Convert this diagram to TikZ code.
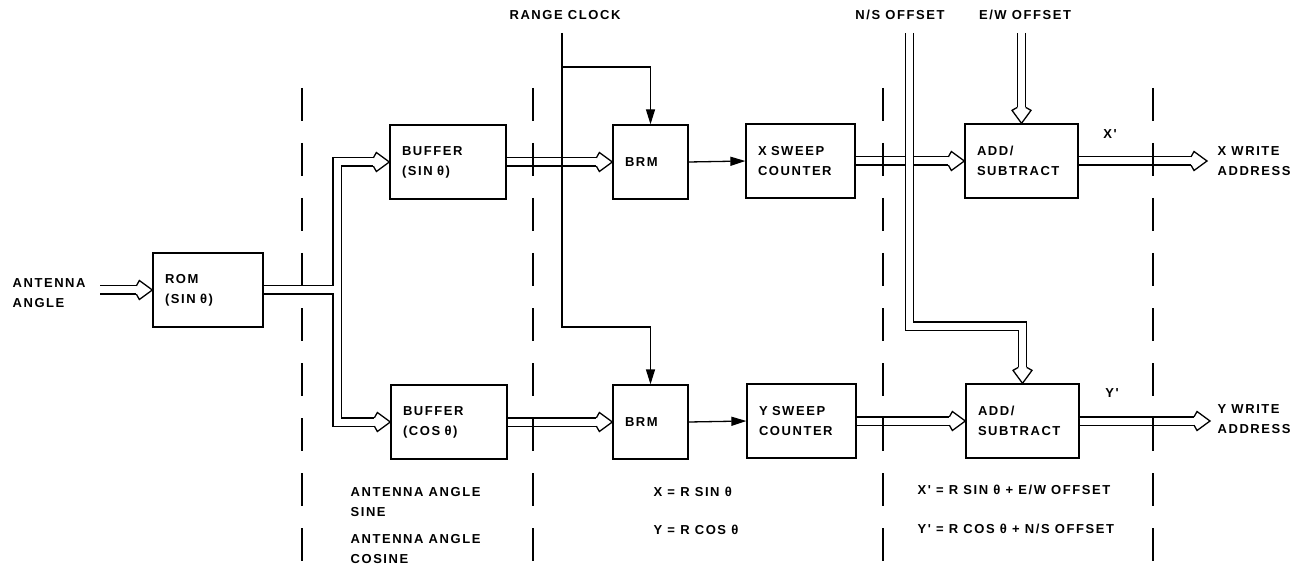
\documentclass[tikz,border=0pt]{standalone}
\usepackage{fontspec}
\setmainfont{Liberation Sans}
\newfontfamily\lblfont[LetterSpace=12]{Liberation Sans}
\usetikzlibrary{arrows.meta}

\tikzset{
    bushead/.pic={\draw[line width=1.3pt, line join=miter] (-16,4.15) -- (-13,9.5) -- (0,0) -- (-13,-9.5) -- (-16,-4.15);}
}

\begin{document}
\begin{tikzpicture}[x=1pt, y=-1pt, line width=1.3pt,
    every node/.style={font=\lblfont\bfseries\fontsize{13}{20}\selectfont, inner sep=0pt},
    block/.style={draw, minimum height=74pt, inner xsep=12pt, text width=#1, align=left},
    bus/.style={double distance=7pt, shorten >=16pt},
    sig/.style={-{Triangle[length=15pt, width=9pt]}},
    sep/.style={line width=2pt, dash pattern=on 33pt off 22pt}]
    \useasboundingbox (0,0) rectangle (1314,569);
    % blocks
    \node[block=86pt] (rom) at (208,290) {ROM\\(SIN θ)};
    \node[block=92pt] (bufsin) at (448,162) {BUFFER\\(SIN θ)};
    \node[block=92pt] (bufcos) at (449,422) {BUFFER\\(COS θ)};
    \node[block=51pt] (brmx) at (650.5,162) {BRM};
    \node[block=51pt] (brmy) at (650.5,422) {BRM};
    \node[block=85pt] (sweepx) at (800.5,161) {X SWEEP\\COUNTER};
    \node[block=85pt] (sweepy) at (801.5,421) {Y SWEEP\\COUNTER};
    \node[block=89pt] (addx) at (1021.5,161) {ADD/\\SUBTRACT};
    \node[block=89pt] (addy) at (1022.5,421) {ADD/\\SUBTRACT};
    % inputs and outputs
    \node[anchor=west, align=left] (angle) at (12,293) {ANTENNA\\ANGLE};
    \node (clklbl) at (565,15) {RANGE CLOCK};
    \node (nslbl) at (900,15) {N/S OFFSET};
    \node (ewlbl) at (1025,15) {E/W OFFSET};
    \node[anchor=west, align=left] (xwr) at (1217,161) {X WRITE\\ADDRESS};
    \node[anchor=west, align=left] (ywr) at (1217,419) {Y WRITE\\ADDRESS};
    \node (xprime) at (1110,134) {X'};
    \node (yprime) at (1112,393) {Y'};
    \coordinate (angin) at (100,290);
    \coordinate (split) at (337,290);
    \coordinate (clk) at (562,33);
    \coordinate (clktap) at (562,67);
    \coordinate (clkbend) at (562,327);
    \coordinate (nstop) at (909.5,33);
    \coordinate (nsbend) at (909.5,326);
    \coordinate (ewtop) at (1021.5,33);
    \coordinate (xout) at (1207,0);
    \coordinate (yout) at (1210,0);
    % angle buses
    \draw[bus] (angin) -- (rom.west);
    \pic at (rom.west) {bushead};
    \draw[bus] (split) |- (bufsin.west);
    \pic at (bufsin.west) {bushead};
    \draw[bus] (split) |- (bufcos.west);
    \pic at (bufcos.west) {bushead};
    \draw[double distance=7pt] (rom.east) -- ([xshift=-3.5pt]split);
    \draw[bus] (bufsin.east) -- (brmx.west);
    \pic at (brmx.west) {bushead};
    \draw[bus] (bufcos.east) -- (brmy.west);
    \pic at (brmy.west) {bushead};
    % range clock
    \draw[sig] (clk) -- (clkbend) -| (brmy.north);
    \draw[sig] (clktap) -| (brmx.north);
    \draw[sig] (brmx.east) -- (sweepx.west);
    \draw[sig] (brmy.east) -- (sweepy.west);
    % sweep and offset buses
    \draw[bus] (sweepx.east) -- (addx.west);
    \pic at (addx.west) {bushead};
    \draw[bus] (sweepy.east) -- (addy.west);
    \pic at (addy.west) {bushead};
    \draw[bus] (ewtop) -- (addx.north);
    \pic[rotate=-90] at (addx.north) {bushead};
    \draw[bus] (nstop) -- (nsbend) -| (addy.north);
    \pic[rotate=-90] at (addy.north) {bushead};
    \draw[bus] (addx.east) -- (addx.east -| xout);
    \pic at (addx.east -| xout) {bushead};
    \draw[bus] (addy.east) -- (addy.east -| yout);
    \pic at (addy.east -| yout) {bushead};
    % separators
    \draw[sep] (302,88) -- (302,569);
    \draw[sep] (533,88) -- (533,569);
    \draw[sep] (883,88) -- (883,569);
    \draw[sep] (1153,88) -- (1153,569);
    % equations
    \node[anchor=west, align=left] (sinelbl) at (350,502) {ANTENNA ANGLE\\SINE};
    \node[anchor=west, align=left] (coslbl) at (350,549) {ANTENNA ANGLE\\COSINE};
    \node[anchor=west] (xeq) at (653,492) {X = R SIN θ};
    \node[anchor=west] (yeq) at (653,530) {Y = R COS θ};
    \node[anchor=west] (xpeq) at (917,490) {X' = R SIN θ + E/W OFFSET};
    \node[anchor=west] (ypeq) at (917,529) {Y' = R COS θ + N/S OFFSET};
\end{tikzpicture}
\end{document}
